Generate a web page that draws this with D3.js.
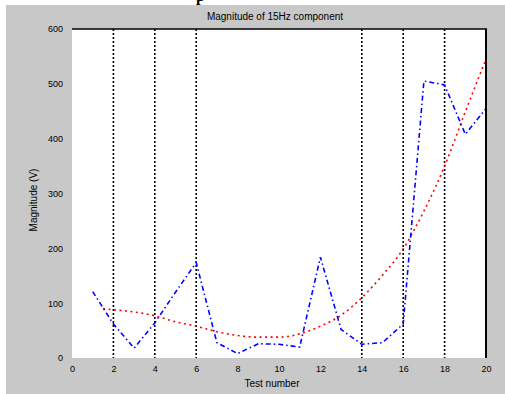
<!DOCTYPE html>
<html>
<head>
<meta charset="utf-8">
<script src="https://cdn.jsdelivr.net/npm/d3@7"></script>
<style>
  body { margin: 0; background: #fff; }
  svg { display: block; font-family: "Liberation Sans", Arial, sans-serif; }
</style>
</head>
<body>
<svg id="chart" width="505" height="394"></svg>
<script>
// data
const testNo = [1, 2, 3, 4, 5, 6, 7, 8, 9, 10, 11, 12, 13, 14, 15, 16, 17, 18, 19, 20];
const measured = [121, 62, 18, 64, 120, 174, 28, 8, 26, 25, 20, 184, 52, 25, 28, 62, 505, 498, 408, 455];
const fitX = [1.5, 2, 3, 4, 5, 6, 7, 8, 9, 10, 11, 12, 13, 14, 15, 16, 17, 18, 19, 20];
const fitY = [90, 88, 84, 77, 66, 58, 48, 41, 38, 38, 44, 58, 78, 110, 151, 199, 268, 350, 449, 545];
const markers = [2, 4, 6, 14, 16, 18];
const xTicks = [0, 2, 4, 6, 8, 10, 12, 14, 16, 18, 20];
const yTicks = [0, 100, 200, 300, 400, 500, 600];

const svg = d3.select("#chart");

// figure background
svg.append("rect")
  .attr("x", 6).attr("y", 5)
  .attr("width", 499).attr("height", 389)
  .attr("fill", "#c8c8c8");

// cut-off glyph at the very top
svg.append("text")
  .attr("x", 196).attr("y", 1)
  .attr("font-size", 16).attr("font-weight", "bold")
  .attr("font-family", "Liberation Serif, serif")
  .text("p");

const x = d3.scaleLinear().domain([0, 20]).range([72, 486]);
const y = d3.scaleLinear().domain([0, 600]).range([358, 29]);

// plot area
svg.append("rect")
  .attr("x", x(0)).attr("y", y(600))
  .attr("width", x(20) - x(0)).attr("height", y(0) - y(600))
  .attr("fill", "#fff");

// tick labels
svg.append("g")
  .attr("transform", "translate(0," + y(0) + ")")
  .call(d3.axisBottom(x).tickValues(xTicks).tickSize(0).tickPadding(8).tickFormat(d3.format("d")))
  .call(g => g.select(".domain").remove())
  .selectAll("text")
  .attr("font-size", 9).attr("fill", "#000").attr("font-family", "Liberation Sans, Arial, sans-serif");

svg.append("g")
  .attr("transform", "translate(" + x(0) + ",0)")
  .call(d3.axisLeft(y).tickValues(yTicks).tickSize(0).tickPadding(9).tickFormat(d3.format("d")))
  .call(g => g.select(".domain").remove())
  .selectAll("text")
  .attr("font-size", 9).attr("fill", "#000").attr("font-family", "Liberation Sans, Arial, sans-serif");

// vertical dotted markers
svg.selectAll(".marker")
  .data(markers)
  .enter()
  .append("line")
  .attr("class", "marker")
  .attr("x1", d => x(d)).attr("x2", d => x(d))
  .attr("y1", y(600)).attr("y2", y(0))
  .attr("stroke", "#000")
  .attr("stroke-width", 1.6)
  .attr("stroke-dasharray", "2,2");

// fitted curve
const fitLine = d3.line()
  .x(d => x(d[0]))
  .y(d => y(d[1]))
  .curve(d3.curveMonotoneX);

svg.append("path")
  .datum(fitX.map((v, i) => [v, fitY[i]]))
  .attr("d", fitLine)
  .attr("fill", "none")
  .attr("stroke", "#ff0000")
  .attr("stroke-width", 1.6)
  .attr("stroke-dasharray", "2,3.5");

// measured values
const measLine = d3.line()
  .x(d => x(d[0]))
  .y(d => y(d[1]));

svg.append("path")
  .datum(testNo.map((v, i) => [v, measured[i]]))
  .attr("d", measLine)
  .attr("fill", "none")
  .attr("stroke", "#0000ff")
  .attr("stroke-width", 1.6)
  .attr("stroke-dasharray", "5,3,1.5,3");

// axes box (top and right)
svg.append("line")
  .attr("x1", x(0)).attr("x2", x(20) + 1)
  .attr("y1", y(600)).attr("y2", y(600))
  .attr("stroke", "#000").attr("stroke-width", 1.5);
svg.append("line")
  .attr("x1", x(20)).attr("x2", x(20))
  .attr("y1", y(600)).attr("y2", y(0))
  .attr("stroke", "#000").attr("stroke-width", 2);

// titles
svg.append("text")
  .attr("x", 275).attr("y", 20)
  .attr("text-anchor", "middle")
  .attr("font-size", 10)
  .text("Magnitude of 15Hz component");

svg.append("text")
  .attr("x", 272).attr("y", 387)
  .attr("text-anchor", "middle")
  .attr("font-size", 10)
  .text("Test number");

svg.append("text")
  .attr("transform", "translate(37,200) rotate(-90)")
  .attr("text-anchor", "middle")
  .attr("font-size", 10)
  .text("Magnitude (V)");
</script>
</body>
</html>
